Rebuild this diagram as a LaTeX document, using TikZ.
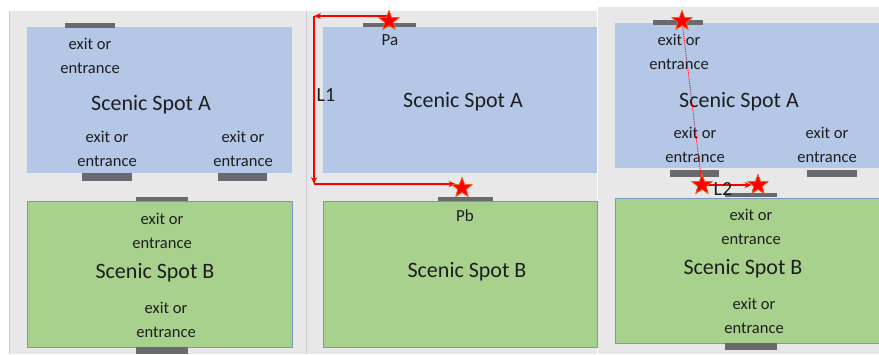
\documentclass[tikz,border=0pt]{standalone}
\usepackage{fontspec}
\setmainfont{Carlito}
\usetikzlibrary{shapes.geometric,arrows.meta}
\definecolor{bgray}{RGB}{232,232,232}
\definecolor{ablue}{RGB}{180,199,231}
\definecolor{bgreen}{RGB}{169,209,142}
\definecolor{gborder}{RGB}{122,152,188}
\definecolor{barc}{RGB}{104,106,112}
\definecolor{txt}{RGB}{30,30,30}
\definecolor{sepl}{RGB}{205,205,210}
\definecolor{starline}{RGB}{230,110,40}
\tikzset{
  ablock/.style={fill=ablue, anchor=north west, inner sep=0, outer sep=0},
  bblock/.style={fill=bgreen, draw=gborder, line width=0.8pt, anchor=north west, inner sep=0, outer sep=0},
  exittxt/.style={text=txt, align=center, font=\fontsize{16.5}{23.5}\selectfont, inner sep=0},
  spottxt/.style={text=txt, font=\fontsize{22}{26}\selectfont, inner sep=0},
  ptlbl/.style={text=txt, font=\fontsize{17}{20}\selectfont, inner sep=0},
  llbl/.style={text=txt, font=\fontsize{20}{24}\selectfont, inner sep=0},
  mystar/.style={star, star points=5, star point ratio=2.4, minimum size=21pt, inner sep=0, fill=red, draw=starline, line width=0.6pt},
  redarr/.style={draw=red, line width=1.1pt, -{Stealth[length=7pt,width=6pt]}},
  reddot/.style={draw=red, line width=0.9pt, densely dotted},
  barfill/.style={fill=barc}
}
\begin{document}
\begin{tikzpicture}[x=1pt,y=-1pt]
\useasboundingbox (0,0) rectangle (879,354);
\fill[white] (0,0) rectangle (879,354);
% panel backgrounds
\fill[bgray] (9,11) rectangle (306,354);
\fill[bgray] (306,11) rectangle (597,354);
\fill[bgray] (598,7) rectangle (879,354);
\draw[sepl, line width=1pt] (9.5,11) -- (9.5,354);
\draw[sepl, line width=1pt] (306,11) -- (306,354);
\draw[white, line width=1pt] (597.5,7) -- (597.5,354);

% ---------- left panel ----------
\node[ablock, minimum width=265pt, minimum height=146pt] (A1) at (27,27) {};
\node[bblock, minimum width=265pt, minimum height=146pt] (B1) at (27,201) {};
\fill[barfill] (65,23) rectangle (115,28);
\fill[barfill] (82,173) rectangle (132,181);
\fill[barfill] (218,173) rectangle (267,181);
\fill[barfill] (136,197) rectangle (188,201);
\fill[barfill] (136,347) rectangle (188,354);
\node[exittxt] (A1e1) at (90,56) {exit or\\entrance};
\node[spottxt] (A1t) at (151,105) {Scenic Spot A};
\node[exittxt] (A1e2) at (107,149) {exit or\\entrance};
\node[exittxt] (A1e3) at (243,149) {exit or\\entrance};
\node[exittxt] (B1e1) at (162,231) {exit or\\entrance};
\node[spottxt] (B1t) at (155,273) {Scenic Spot B};
\node[exittxt] (B1e2) at (166,320) {exit or\\entrance};

% ---------- middle panel ----------
\node[ablock, minimum width=274pt, minimum height=146pt] (A2) at (323,27) {};
\node[bblock, minimum width=274pt, minimum height=146pt] (B2) at (323,201) {};
\fill[barfill] (363,23) rectangle (416,27);
\fill[barfill] (438,197) rectangle (493,201);
\node[spottxt] (A2t) at (463,102) {Scenic Spot A};
\node[spottxt] (B2t) at (467,272) {Scenic Spot B};
\node[ptlbl] (PaL) at (390,40) {Pa};
\node[ptlbl] (PbL) at (465,216) {Pb};
\node[llbl] (L1) at (326,95) {L1};
\coordinate (c1) at (314,16);
\coordinate (c2) at (314,184);
\node[mystar] (Pa) at (389,21) {};
\node[mystar] (Pb) at (462,188) {};
\draw[redarr] ([yshift=5pt]Pa.center) -- (c1);
\draw[redarr] (c1) -- (c2);
\draw[redarr] (c2) -- (c2 -| Pb.west);
\node[mystar] at (Pa) {};
\node[mystar] at (Pb) {};

% ---------- right panel ----------
\node[ablock, minimum width=264pt, minimum height=145pt] (A3) at (615,23) {};
\node[bblock, minimum width=266pt, minimum height=145pt] (B3) at (615,198) {};
\fill[barfill] (653,20) rectangle (703,25);
\fill[barfill] (670,170) rectangle (719,177);
\fill[barfill] (807,170) rectangle (857,177);
\fill[barfill] (725,193) rectangle (777,197);
\fill[barfill] (725,343) rectangle (777,350);
\node[exittxt] (A3e1) at (679,52) {exit or\\entrance};
\node[spottxt] (A3t) at (739,102) {Scenic Spot A};
\node[exittxt] (A3e2) at (695,145) {exit or\\entrance};
\node[exittxt] (A3e3) at (827,145) {exit or\\entrance};
\node[exittxt] (B3e1) at (751,227) {exit or\\entrance};
\node[spottxt] (B3t) at (743,269) {Scenic Spot B};
\node[exittxt] (B3e2) at (754,316) {exit or\\entrance};
\node[mystar] (R0) at (682,21) {};
\node[mystar] (R1) at (702,185) {};
\node[mystar] (R2) at (758,185) {};
\draw[reddot] (R0.center) -- (R1.center);
\draw[redarr] (R1.center) -- (R2.west);
\node[mystar] at (R0) {};
\node[mystar] at (R1) {};
\node[mystar] at (R2) {};
\node[llbl] (L2) at (723,189) {L2};
\end{tikzpicture}
\end{document}
